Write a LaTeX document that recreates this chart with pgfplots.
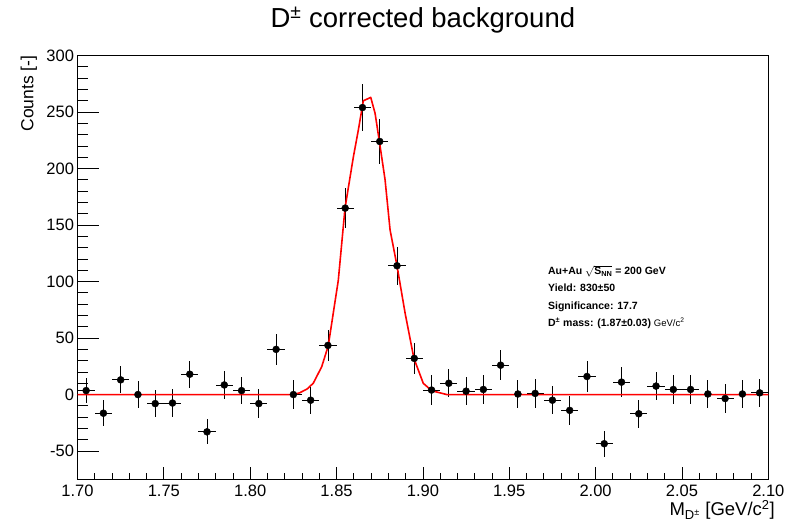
\documentclass[border=0pt]{standalone}
\usepackage{pgfplots}
\usepackage{pgfplotstable}
\pgfplotsset{compat=1.18}
\usepackage{fontspec}
\setmainfont{Liberation Sans}

\pgfplotstableread{
x y ey
1.705 3.5 11
1.715 -16.5 11.5
1.725 13 12
1.735 0 12
1.745 -8 12
1.755 -7.5 12
1.765 18 12
1.775 -33 11
1.785 8.5 12
1.795 3.5 12
1.805 -8 12.5
1.815 40 13.5
1.825 0 13
1.835 -5 12
1.845 43.5 14
1.855 165 18
1.865 254 21
1.875 224 20
1.885 114 17
1.895 32 13.5
1.905 4 13
1.915 10 12.5
1.925 3 12.5
1.935 4.5 12.5
1.945 26 13
1.955 0.5 12.5
1.965 1 12.5
1.975 -5 12.5
1.985 -14 12.5
1.995 16 13.5
2.005 -43.5 11.5
2.015 11 13
2.025 -17 12.5
2.035 7.5 12.5
2.045 4.5 12.5
2.055 4.5 12.5
2.065 0.5 12.5
2.075 -3.5 12.5
2.085 0.5 12.5
2.095 1.5 12.5
}\data

\pgfplotstableread{
x y
1.700 0
1.8247 0
1.8286 1.5
1.8330 5
1.8365 10
1.8414 24.6
1.8452 43.2
1.8510 101
1.8549 165
1.8597 210
1.8626 234
1.8655 260
1.8698 263
1.8723 249
1.8748 224
1.8781 190
1.8810 145.6
1.8850 114
1.8897 72
1.8948 32
1.9002 10
1.9051 3.4
1.9138 0
2.100 0
}\fit

\begin{document}
\begin{tikzpicture}
\begin{axis}[
  name=ax,
  scale only axis,
  width=690.8pt, height=423.7pt,
  xmin=1.70, xmax=2.10, ymin=-75, ymax=300,
  axis line style={black, line width=0.8pt},
  tick align=inside,
  tick pos=left,
  major tick length=21pt,
  minor tick length=10.5pt,
  xtick style={/pgfplots/major tick length=12.7pt,/pgfplots/minor tick length=6.3pt},
  every tick/.style={black, line width=0.8pt},
  xtick={1.70,1.75,1.80,1.85,1.90,1.95,2.00,2.05,2.10},
  xticklabels={1.70,1.75,1.80,1.85,1.90,1.95,2.00,2.05,2.10},
  ytick={-50,0,50,100,150,200,250,300},
  minor x tick num=4,
  minor y tick num=4,
  /pgf/number format/assume math mode=true,
  tick label style={font=\fontsize{16.5}{18}\selectfont},
  xticklabel style={yshift=-2.5pt},
  title={D\textsuperscript{±} corrected background},
  title style={font=\fontsize{27.5}{30}\selectfont, at={(axis description cs:0.5,1)}, anchor=base, yshift=22.3pt},
  xlabel={M\textsubscript{D\textsuperscript{±}} [GeV/c\textsuperscript{2}]},
  xlabel style={font=\fontsize{18.5}{20}\selectfont, at={(axis description cs:1.0145,-0.0866)}, anchor=base east},
  ylabel={Counts [-]},
  ylabel style={font=\fontsize{17.5}{20}\selectfont, at={(axis description cs:-0.064,1.0085)}, anchor=base east, rotate=0},
  clip=false,
]
\addplot[only marks, mark=*, mark size=3.5pt, black,
  error bars/.cd, x dir=both, x fixed=0.005, y dir=both, y explicit,
  error mark=none, error bar style={black, line width=0.8pt}]
  table[x=x, y=y, y error=ey]{\data};
\addplot[red, line width=1.6pt, line join=round] table[x=x, y=y]{\fit};
\node[anchor=north west, align=left, font=\bfseries\fontsize{10.5}{17.2}\selectfont, inner sep=0pt]
  at (axis cs:1.9724,114.5)
  {Au+Au \(\sqrt{\hbox{\bfseries S\textsubscript{NN}}}\) = 200 GeV\\
   Yield: 830±50\\
   Significance: 17.7\\
   D\textsuperscript{±} mass: (1.87±0.03) {\mdseries\fontsize{9.5}{17}\selectfont GeV/c\textsuperscript{2}}};
\end{axis}
\pgfresetboundingbox
\path (ax.south west) ++(-77.5pt,-44.7pt) rectangle ([shift={(29.7pt,55.6pt)}]ax.north east);
\end{tikzpicture}
\end{document}
